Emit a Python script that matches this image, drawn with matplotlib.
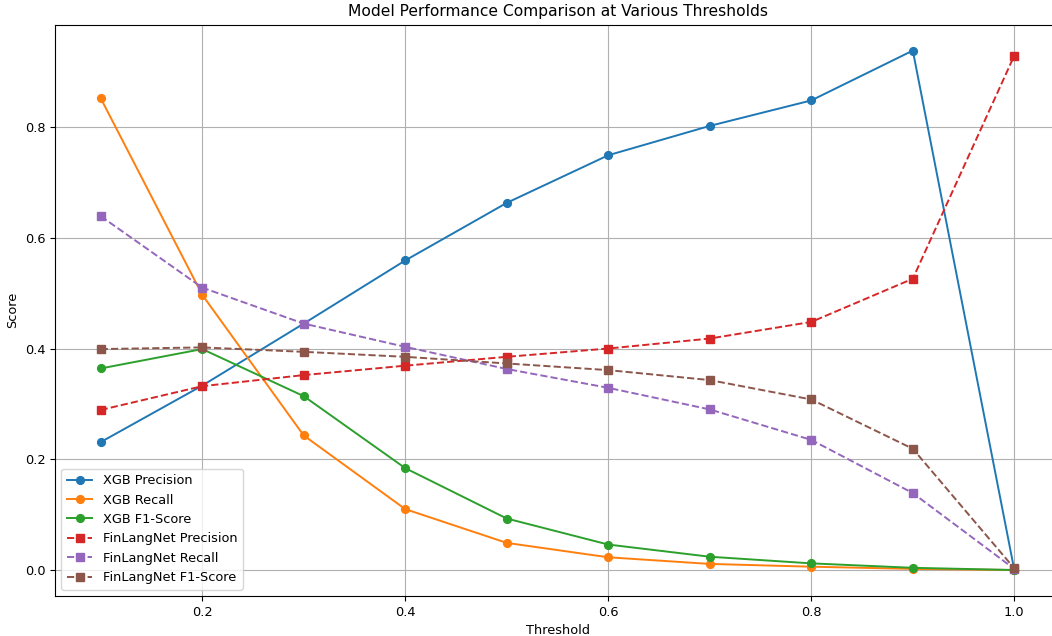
import matplotlib
matplotlib.use("Agg")
import matplotlib.pyplot as plt

thresholds = [0.1, 0.2, 0.3, 0.4, 0.5, 0.6, 0.7, 0.8, 0.9, 1.0]

xgb_precision = [0.231, 0.333, 0.445, 0.559, 0.663, 0.749, 0.802, 0.848, 0.938, 0.0]
xgb_recall = [0.852, 0.497, 0.243, 0.110, 0.049, 0.023, 0.011, 0.006, 0.002, 0.0]
xgb_f1 = [0.364, 0.399, 0.314, 0.184, 0.093, 0.046, 0.024, 0.012, 0.004, 0.0]

fln_precision = [0.289, 0.332, 0.352, 0.369, 0.385, 0.400, 0.418, 0.448, 0.526, 0.929]
fln_recall = [0.639, 0.510, 0.445, 0.403, 0.363, 0.329, 0.290, 0.235, 0.139, 0.002]
fln_f1 = [0.399, 0.402, 0.394, 0.385, 0.373, 0.361, 0.343, 0.308, 0.219, 0.003]

plt.rcParams['font.size'] = 9.3
plt.rcParams['axes.titlesize'] = 11.15
plt.rcParams['lines.linewidth'] = 1.4
plt.rcParams['lines.markersize'] = 5.6

fig = plt.figure(figsize=(10.52, 6.36), dpi=100)
ax = fig.add_axes([0.0523, 0.0629, 0.9553, 0.8984])

ax.plot(thresholds, xgb_precision, marker='o', label='XGB Precision', color='#1f77b4')
ax.plot(thresholds, xgb_recall, marker='o', label='XGB Recall', color='#ff7f0e')
ax.plot(thresholds, xgb_f1, marker='o', label='XGB F1-Score', color='#2ca02c')
ax.plot(thresholds, fln_precision, marker='s', linestyle='--', label='FinLangNet Precision', color='#d62728')
ax.plot(thresholds, fln_recall, marker='s', linestyle='--', label='FinLangNet Recall', color='#9467bd')
ax.plot(thresholds, fln_f1, marker='s', linestyle='--', label='FinLangNet F1-Score', color='#8c564b')

ax.set_title('Model Performance Comparison at Various Thresholds')
ax.set_xlabel('Threshold')
ax.set_ylabel('Score')
ax.grid(True)
ax.legend(loc='lower left')

fig.savefig('out.png', dpi=100)
